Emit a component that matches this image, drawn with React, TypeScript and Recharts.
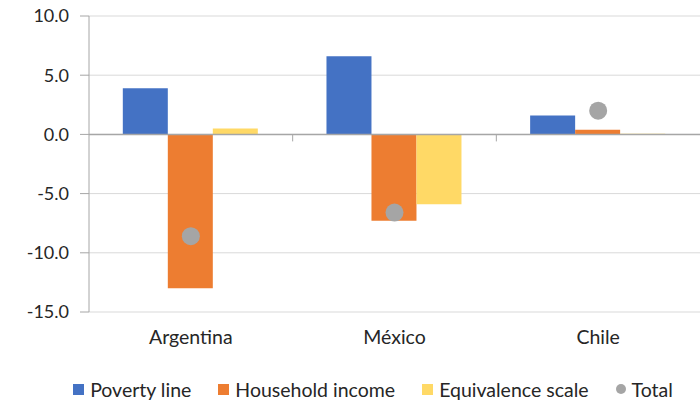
import {
  ComposedChart,
  Bar,
  Line,
  XAxis,
  YAxis,
  CartesianGrid,
  ReferenceLine,
  Legend,
} from 'recharts'

const categories = ['Argentina', 'México', 'Chile']
const povertyLine = [3.9, 6.6, 1.6]
const householdIncome = [-13.0, -7.3, 0.4]
const equivalenceScale = [0.5, -5.9, 0.05]
const total = [-8.6, -6.6, 2.0]
const yTicks = [-15, -10, -5, 0, 5, 10]

const series = [
  { key: 'poverty', name: 'Poverty line', color: '#4472C4', kind: 'bar' },
  { key: 'income', name: 'Household income', color: '#ED7D31', kind: 'bar' },
  { key: 'scale', name: 'Equivalence scale', color: '#FFD966', kind: 'bar' },
  { key: 'total', name: 'Total', color: '#A5A5A5', kind: 'dot' },
]

const data = categories.map((country, i) => ({
  country,
  poverty: povertyLine[i],
  income: householdIncome[i],
  scale: equivalenceScale[i],
  total: total[i],
}))

const FONT = 'Lato, "DejaVu Sans", sans-serif'
const TEXT = '#262626'
const AXIS_GRAY = '#A6A6A6'

// zero line with small tick marks at the category boundaries
const ZeroAxis = (props: any) => {
  const { x1, x2, y1 } = props
  const n = categories.length
  const step = (x2 - x1) / n
  const marks = []
  for (let k = 1; k < n; k++) {
    const x = x1 + k * step
    marks.push(<line key={k} x1={x} x2={x} y1={y1} y2={y1 + 7} stroke={AXIS_GRAY} strokeWidth={1} />)
  }
  return (
    <g>
      <line x1={x1} x2={x2} y1={y1} y2={y1} stroke={AXIS_GRAY} strokeWidth={1.5} />
      {marks}
    </g>
  )
}

const renderLegend = () => (
  <div
    style={{
      display: 'flex',
      justifyContent: 'center',
      alignItems: 'center',
      height: 24,
      paddingTop: 3,
      paddingLeft: 46,
      gap: 27,
      fontFamily: FONT,
      fontSize: 19.5,
      color: TEXT,
    }}
  >
    {series.map((s) => (
      <div key={s.key} style={{ display: 'flex', alignItems: 'center' }}>
        <span
          style={{
            display: 'inline-block',
            width: s.kind === 'dot' ? 10 : 11,
            height: s.kind === 'dot' ? 10 : 11,
            marginRight: 6,
            background: s.color,
            borderRadius: s.kind === 'dot' ? '50%' : 0,
          }}
        />
        {s.name}
      </div>
    ))}
  </div>
)

export default function App() {
  return (
    <div style={{ position: 'absolute', left: 0, top: 0, background: '#fff' }}>
      <ComposedChart
        width={700}
        height={401}
        data={data}
        margin={{ top: 16, right: 0, bottom: 0, left: 0 }}
        barCategoryGap="16.6%"
        barGap={0}
      >
        <CartesianGrid vertical={false} stroke="#D9D9D9" />
        <XAxis
          dataKey="country"
          axisLine={false}
          tickLine={false}
          tickSize={0}
          tickMargin={18}
          height={62}
          tick={{ fill: TEXT, fontSize: 19.5, fontFamily: FONT }}
        />
        <YAxis
          domain={[-15, 10]}
          ticks={yTicks}
          width={89}
          tickFormatter={(v: number) => v.toFixed(1)}
          axisLine={{ stroke: AXIS_GRAY }}
          tickLine={{ stroke: AXIS_GRAY }}
          tickSize={9}
          tickMargin={11}
          tick={{ fill: TEXT, fontSize: 18, fontFamily: FONT }}
        />
        <Legend verticalAlign="bottom" content={renderLegend} />
        <Bar dataKey="poverty" name="Poverty line" fill="#4472C4" isAnimationActive={false} />
        <Bar dataKey="income" name="Household income" fill="#ED7D31" isAnimationActive={false} />
        <Bar dataKey="scale" name="Equivalence scale" fill="#FFD966" isAnimationActive={false} />
        <ReferenceLine y={0} shape={ZeroAxis} />
        <Line
          dataKey="total"
          name="Total"
          stroke="none"
          dot={{ r: 9, fill: '#A5A5A5', stroke: 'none' }}
          activeDot={false}
          isAnimationActive={false}
        />
      </ComposedChart>
    </div>
  )
}
